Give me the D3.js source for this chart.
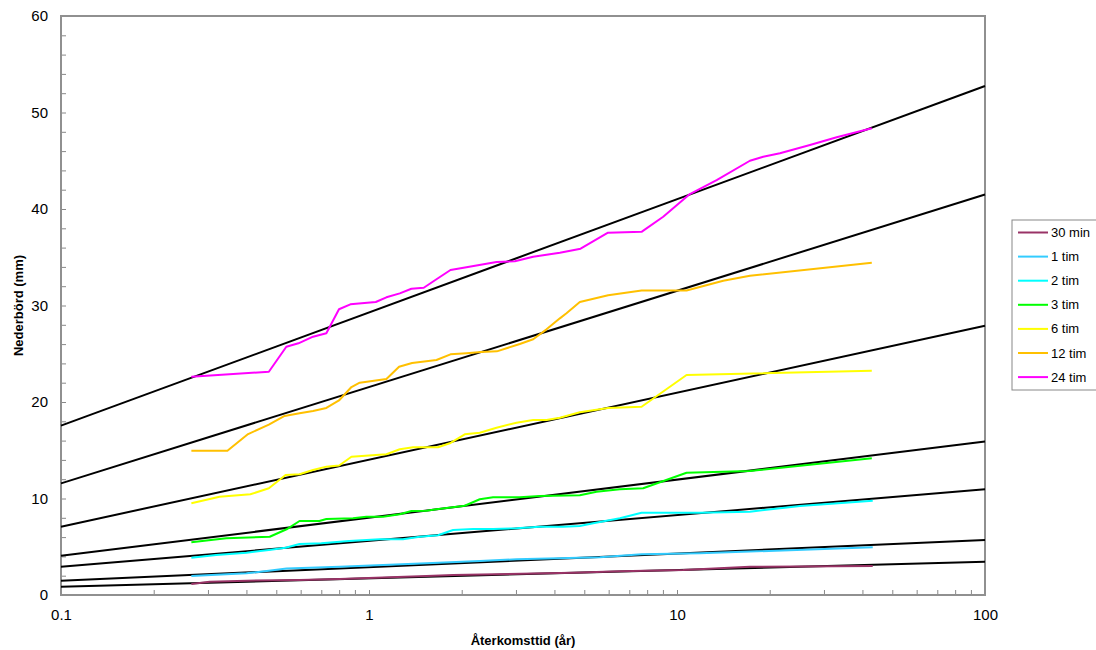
<!DOCTYPE html>
<html>
<head>
<meta charset="utf-8">
<script src="https://cdn.jsdelivr.net/npm/d3@7"></script>
<style>
  body { margin: 0; background: #fff; }
  svg { font-family: "Liberation Sans", Arial, Helvetica, sans-serif; }
</style>
</head>
<body>
<svg id="chart"></svg>
<script>
// durations (legend order) and colours
const durations = ["30 min", "1 tim", "2 tim", "3 tim", "6 tim", "12 tim", "24 tim"]
const colors = ["#993366", "#33CCFF", "#00FFFF", "#00FF00", "#FFFF00", "#FFC000", "#FF00FF"]

// observed values: [återkomsttid (år), nederbörd (mm)]
const s30min = [[0.265, 1.14], [0.304, 1.38], [0.4, 1.48], [0.595, 1.55], [0.803, 1.66], [1.537, 1.97], [1.875, 2.07], [4.6, 2.31], [6.525, 2.46], [10.47, 2.59], [17.25, 2.93], [43.2, 3.0]]
const s1tim = [[0.265, 1.97], [0.4, 2.25], [0.473, 2.52], [0.54, 2.75], [0.803, 2.93], [1.537, 3.28], [2.289, 3.52], [3.012, 3.7], [5.617, 3.91], [7.674, 4.22], [11.87, 4.32], [43.2, 4.94]]
const s2tim = [[0.265, 3.87], [0.319, 4.15], [0.4, 4.38], [0.473, 4.66], [0.536, 4.9], [0.595, 5.28], [0.7, 5.36], [0.862, 5.6], [1.083, 5.77], [1.289, 5.77], [1.461, 6.04], [1.675, 6.19], [1.875, 6.74], [2.178, 6.84], [2.529, 6.84], [3.012, 6.91], [3.587, 7.08], [4.266, 7.08], [4.836, 7.15], [5.343, 7.43], [6.525, 7.95], [7.674, 8.53], [11.87, 8.53], [17.25, 8.63], [25.07, 9.22], [43.2, 9.77]]
const s3tim = [[0.265, 5.46], [0.344, 5.88], [0.476, 6.04], [0.54, 6.81], [0.595, 7.67], [0.69, 7.67], [0.727, 7.88], [0.887, 7.95], [0.981, 8.11], [1.11, 8.11], [1.259, 8.36], [1.373, 8.7], [1.537, 8.74], [1.656, 8.88], [2.046, 9.25], [2.289, 9.92], [2.529, 10.12], [3.087, 10.12], [3.587, 10.26], [4.836, 10.33], [5.481, 10.7], [6.525, 10.95], [7.763, 11.06], [10.74, 12.67], [17.25, 12.85], [42.9, 14.17]]
const s6tim = [[0.265, 9.5], [0.327, 10.19], [0.412, 10.44], [0.473, 11.06], [0.536, 12.44], [0.595, 12.52], [0.658, 12.95], [0.727, 13.3], [0.8, 13.42], [0.877, 14.33], [1.139, 14.58], [1.259, 15.1], [1.39, 15.31], [1.675, 15.31], [1.829, 15.72], [2.046, 16.65], [2.289, 16.82], [2.594, 17.34], [3.012, 17.85], [3.412, 18.13], [3.771, 18.13], [4.166, 18.37], [4.836, 18.93], [5.977, 19.38], [7.674, 19.51], [10.74, 22.8], [42.9, 23.24]]
const s12tim = [[0.265, 14.95], [0.347, 14.95], [0.405, 16.68], [0.473, 17.65], [0.532, 18.55], [0.595, 18.83], [0.658, 19.07], [0.727, 19.38], [0.799, 20.16], [0.877, 21.55], [0.933, 22.0], [1.139, 22.38], [1.252, 23.66], [1.38, 24.04], [1.656, 24.35], [1.839, 24.94], [2.072, 25.05], [2.31, 25.18], [2.6, 25.25], [3.087, 26.01], [3.412, 26.5], [3.771, 27.53], [4.166, 28.67], [4.377, 29.19], [4.836, 30.36], [5.977, 31.06], [7.674, 31.55], [10.74, 31.55], [14.13, 32.57], [17.25, 33.09], [42.9, 34.44]]
const s24tim = [[0.265, 22.62], [0.473, 23.14], [0.539, 25.73], [0.59, 26.08], [0.658, 26.77], [0.727, 27.12], [0.799, 29.61], [0.87, 30.12], [1.052, 30.36], [1.139, 30.85], [1.259, 31.26], [1.373, 31.74], [1.506, 31.84], [1.656, 32.72], [1.839, 33.68], [2.072, 33.96], [2.594, 34.51], [2.974, 34.58], [3.412, 35.06], [3.864, 35.31], [4.166, 35.47], [4.864, 35.89], [5.97, 37.54], [7.69, 37.65], [9.02, 39.2], [11.01, 41.55], [13.45, 43.0], [17.25, 45.0], [19.05, 45.42], [21.59, 45.77], [27.02, 46.63], [33.0, 47.43], [42.9, 48.36]]
const observed = [s30min, s1tim, s2tim, s3tim, s6tim, s12tim, s24tim]

// fitted lines, value at 0.1 år and at 100 år
const fitStart = [0.86, 1.48, 2.93, 4.07, 7.08, 11.57, 17.55]
const fitEnd = [3.45, 5.7, 10.95, 15.9, 27.9, 41.5, 52.75]
const fitPeriods = [0.1, 100]

const xDecades = [0.1, 1, 10, 100]
const yLabels = [0, 10, 20, 30, 40, 50, 60]

const width = 1096
const height = 650
const margin = { top: 16, right: 111, bottom: 55, left: 61 }

const svg = d3.select("#chart").attr("width", width).attr("height", height)

const x = d3.scaleLog().domain([0.1, 100]).range([margin.left, width - margin.right])
const y = d3.scaleLinear().domain([0, 60]).range([height - margin.bottom, margin.top])

// minor log ticks 0.1..100
const xTicks = []
xDecades.slice(0, 3).forEach((d) => {
  for (let k = 1; k < 10; k++) xTicks.push(+(d * k).toPrecision(3))
})
xTicks.push(100)

const xAxis = d3
  .axisBottom(x)
  .tickValues(xTicks)
  .tickSize(-5)
  .tickPadding(14)
  .tickFormat((d) => (xDecades.includes(d) ? String(d) : ""))

const yAxis = d3
  .axisLeft(y)
  .tickValues(d3.range(0, 61, 2))
  .tickSize(-5)
  .tickPadding(13)
  .tickFormat((d) => (yLabels.includes(d) ? d : ""))

const gx = svg.append("g").attr("transform", `translate(0,${y(0)})`).call(xAxis)
const gy = svg.append("g").attr("transform", `translate(${x(0.1)},0)`).call(yAxis)
;[gx, gy].forEach((g) => {
  g.select(".domain").remove()
  g.selectAll("line").attr("stroke", "#888").attr("stroke-width", 1)
  g.selectAll("text").attr("font-size", 15).attr("fill", "#000")
  g.attr("font-family", null)
})

// frame
svg
  .append("rect")
  .attr("x", x(0.1))
  .attr("y", y(60))
  .attr("width", x(100) - x(0.1))
  .attr("height", y(0) - y(60))
  .attr("fill", "none")
  .attr("stroke", "#909090")
  .attr("stroke-width", 2)

const line = d3
  .line()
  .x((d) => x(d[0]))
  .y((d) => y(d[1]))

// fitted lines
svg
  .append("g")
  .selectAll("path")
  .data(durations.map((d, i) => [[fitPeriods[0], fitStart[i]], [fitPeriods[1], fitEnd[i]]]))
  .join("path")
  .attr("d", line)
  .attr("fill", "none")
  .attr("stroke", "#000")
  .attr("stroke-width", 2)

// observed series
svg
  .append("g")
  .selectAll("path")
  .data(observed)
  .join("path")
  .attr("d", line)
  .attr("fill", "none")
  .attr("stroke", (d, i) => colors[i])
  .attr("stroke-width", 2)
  .attr("stroke-linejoin", "round")

// axis titles
svg
  .append("text")
  .attr("x", (x(0.1) + x(100)) / 2)
  .attr("y", 645)
  .attr("text-anchor", "middle")
  .attr("font-size", 13)
  .attr("font-weight", "bold")
  .text("Återkomsttid (år)")

svg
  .append("text")
  .attr("transform", `translate(23,${(y(0) + y(60)) / 2}) rotate(-90)`)
  .attr("text-anchor", "middle")
  .attr("font-size", 13)
  .attr("font-weight", "bold")
  .text("Nederbörd (mm)")

// legend
const legend = svg.append("g").attr("transform", "translate(1012,220)")
legend
  .append("rect")
  .attr("width", 90)
  .attr("height", 170)
  .attr("fill", "#fff")
  .attr("stroke", "#888")
  .attr("stroke-width", 1)

const item = legend
  .selectAll("g")
  .data(durations)
  .join("g")
  .attr("transform", (d, i) => `translate(0,${12.5 + i * 24.1})`)

item
  .append("line")
  .attr("x1", 6)
  .attr("x2", 36)
  .attr("stroke", (d, i) => colors[i])
  .attr("stroke-width", 2)

item
  .append("text")
  .attr("x", 39)
  .attr("dy", "0.35em")
  .attr("font-size", 13)
  .text((d) => d)
</script>
</body>
</html>
